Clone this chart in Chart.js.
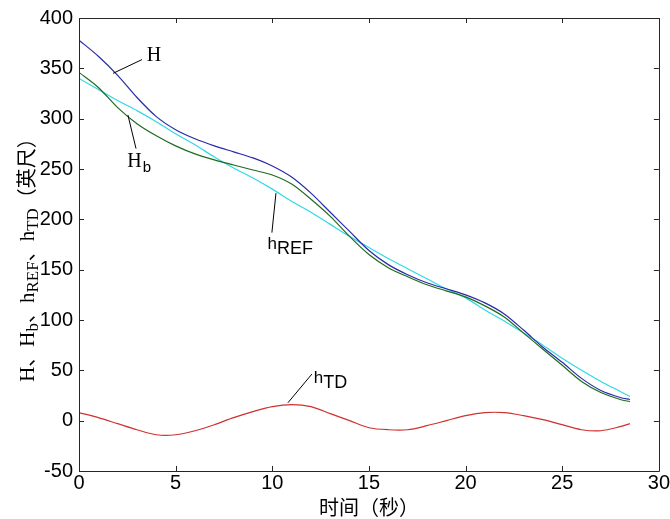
<!DOCTYPE html>
<html>
<head>
<meta charset="utf-8">
<script src="https://cdn.jsdelivr.net/npm/chart.js@4/dist/chart.umd.min.js"></script>
<style>
    html, body { margin: 0; padding: 0; background: #fff; }
    #wrap { width: 670px; height: 519px; position: relative; }
</style>
</head>
<body>
<div id="wrap"><canvas id="chart"></canvas></div>
<script>
// time (s)
const times = [0, 1, 2, 3, 4, 5, 6, 7, 8, 9, 10, 11, 12, 13, 14, 15, 16, 17, 18, 19, 20, 21, 22, 23, 24, 25, 26, 27, 28, 28.5];
// heights (ft)
const H    = [378, 362, 343, 321, 302, 289, 280, 273, 267, 261, 253, 242, 226, 207, 188, 169, 155, 145, 137, 131, 125, 117, 106, 90, 73, 58, 42, 30, 23, 21];
const Hb   = [346, 331, 311, 295, 283, 273, 265, 259, 254, 249, 244, 235, 220, 203, 183, 165, 152, 143, 135, 129, 123, 114, 103, 87, 71, 55, 39, 28, 21, 19];
const hREF = [340, 329, 318, 308, 297, 285, 274, 262, 251, 241, 230, 218, 207, 195, 183, 172, 161, 151, 141, 131, 122, 110, 99, 87, 75, 62, 50, 39, 29, 24];
const hTD  = [8, 3, -3, -9, -14, -14, -10, -4, 3, 9, 14, 16, 14, 7, 0, -7, -9, -9, -5, 0, 5, 8, 8, 5, 1, -4, -9, -10, -6, -3];

const xTicks = [0, 5, 10, 15, 20, 25, 30];
const yTicks = [-50, 0, 50, 100, 150, 200, 250, 300, 350, 400];

// curve labels: leader line from (x1,y1) to (x2,y2), text baseline at (tx,ty), data units
const labels = [
    {main: 'H', sub: '', serif: true, x1: 1.76, y1: 345, x2: 3.26, y2: 358.7, tx: 3.5, ty: 357},
    {main: 'H', sub: 'b', serif: true, x1: 2.53, y1: 303.7, x2: 2.95, y2: 270.3, tx: 2.5, ty: 252},
    {main: 'h', sub: 'REF', serif: false, x1: 10.19, y1: 226, x2: 9.98, y2: 186.8, tx: 9.75, ty: 171},
    {main: 'h', sub: 'TD', serif: false, x1: 10.81, y1: 17.8, x2: 12.05, y2: 46.3, tx: 12.15, ty: 37},
];

const pts = ys => times.map((t, i) => ({x: t, y: ys[i]}));

const tickFont = {family: '"Liberation Sans Narrow", "Liberation Sans", Arial', size: 20};

const axesPlugin = {
    id: 'axesBox',
    afterDatasetsDraw(chart) {
        const {ctx, chartArea: a, scales: {x, y}} = chart;
        ctx.save();
        ctx.strokeStyle = '#262626';
        ctx.lineWidth = 1;
        ctx.beginPath();
        ctx.rect(Math.round(a.left) + 0.5, Math.round(a.top) + 0.5, Math.round(a.right - a.left), Math.round(a.bottom - a.top));
        for (const v of xTicks) {
            const px = Math.round(x.getPixelForValue(v)) + 0.5;
            ctx.moveTo(px, a.bottom); ctx.lineTo(px, a.bottom - 5);
            ctx.moveTo(px, a.top); ctx.lineTo(px, a.top + 5);
        }
        for (const v of yTicks) {
            const py = Math.round(y.getPixelForValue(v)) + 0.5;
            ctx.moveTo(a.left, py); ctx.lineTo(a.left + 5, py);
            ctx.moveTo(a.right, py); ctx.lineTo(a.right - 5, py);
        }
        ctx.stroke();
        ctx.restore();
    },
    afterDraw(chart) {
        const {ctx, scales: {x, y}} = chart;
        ctx.save();
        ctx.fillStyle = '#000';
        ctx.strokeStyle = '#000';
        ctx.lineWidth = 1;
        ctx.textBaseline = 'alphabetic';
        for (const l of labels) {
            ctx.beginPath();
            ctx.moveTo(x.getPixelForValue(l.x1), y.getPixelForValue(l.y1));
            ctx.lineTo(x.getPixelForValue(l.x2), y.getPixelForValue(l.y2));
            ctx.stroke();
            const tx = x.getPixelForValue(l.tx);
            const ty = y.getPixelForValue(l.ty);
            ctx.font = l.serif ? '20px "Liberation Serif"' : '17px "Liberation Sans"';
            ctx.fillText(l.main, tx, ty);
            const w = ctx.measureText(l.main).width;
            if (l.sub) {
                ctx.font = l.serif ? '15px "Liberation Sans"' : '18px "Liberation Sans"';
                ctx.fillText(l.sub, tx + w + (l.serif ? 1 : 0), ty + 5);
            }
        }

        // y axis title with subscripts
        const parts = [
            ['H', 'ser'], ['、', 'cjk'], ['H', 'ser'], ['b', 'sub'], ['、', 'cjk'],
            ['h', 'ser'], ['REF', 'sub'], ['、', 'cjk'], ['h', 'ser'], ['TD', 'sub'], ['（英尺）', 'cjk']
        ];
        const fonts = {
            ser: '21px "Liberation Serif"',
            sub: '17px "Liberation Serif"',
            cjk: '20px "Noto Sans CJK SC"'
        };
        let total = 0;
        for (const [t, f] of parts) { ctx.font = fonts[f]; total += ctx.measureText(t).width; }
        ctx.translate(34, 255);
        ctx.rotate(-Math.PI / 2);
        let cx = -total / 2;
        for (const [t, f] of parts) {
            ctx.font = fonts[f];
            ctx.fillText(t, cx, f === 'sub' ? 4 : 0);
            cx += ctx.measureText(t).width;
        }
        ctx.restore();
    }
};

new Chart(document.getElementById('chart'), {
    type: 'line',
    data: {
        datasets: [
            {label: 'H', data: pts(H), borderColor: '#2a2aa8'},
            {label: 'Hb', data: pts(Hb), borderColor: '#1f6b1f'},
            {label: 'hREF', data: pts(hREF), borderColor: '#30d8e6'},
            {label: 'hTD', data: pts(hTD), borderColor: '#d03030'},
        ].map(d => Object.assign(d, {borderWidth: 1.2, pointRadius: 0, tension: 0.3, fill: false}))
    },
    options: {
        responsive: true,
        maintainAspectRatio: false,
        animation: false,
        layout: {padding: {top: 13, right: 11, left: 0, bottom: 0}},
        plugins: {legend: {display: false}, tooltip: {enabled: false}},
        scales: {
            x: {
                type: 'linear', min: 0, max: 30,
                afterBuildTicks: s => { s.ticks = xTicks.map(v => ({value: v})); },
                ticks: {font: tickFont, color: '#000', padding: 0, maxRotation: 0, autoSkip: false},
                grid: {display: false, drawTicks: false},
                border: {display: false},
                title: {display: true, text: '时间（秒）', color: '#000',
                    font: {family: '"Noto Sans CJK SC"', size: 20}, padding: {top: 0, bottom: 0}},
                afterFit: s => { s.height = 48; }
            },
            y: {
                type: 'linear', min: -50, max: 400,
                afterBuildTicks: s => { s.ticks = yTicks.map(v => ({value: v})); },
                ticks: {font: tickFont, color: '#000', padding: 6, autoSkip: false},
                grid: {display: false, drawTicks: false},
                border: {display: false},
                afterFit: s => { s.width = 79; }
            }
        }
    },
    plugins: [axesPlugin]
});
</script>
</body>
</html>
